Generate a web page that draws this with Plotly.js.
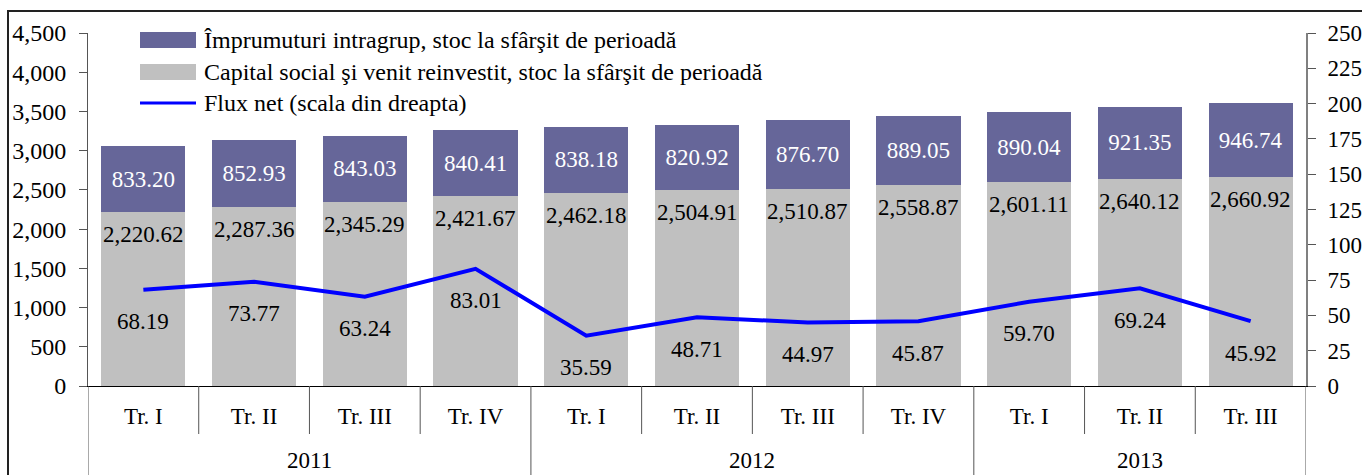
<!DOCTYPE html>
<html><head><meta charset="utf-8">
<script src="https://cdn.plot.ly/plotly-3.0.1.min.js"></script>
<style>html,body{margin:0;padding:0;background:#fff}#chart{width:1362px;height:475px}</style>
</head><body><div id="chart"></div>
<script>
const years = ["2011","2011","2011","2011","2012","2012","2012","2012","2013","2013","2013"];
const quarters = ["Tr. I","Tr. II","Tr. III","Tr. IV","Tr. I","Tr. II","Tr. III","Tr. IV","Tr. I","Tr. II","Tr. III"];
const capitalSocial = [2220.62,2287.36,2345.29,2421.67,2462.18,2504.91,2510.87,2558.87,2601.11,2640.12,2660.92];
const imprumuturi = [833.20,852.93,843.03,840.41,838.18,820.92,876.70,889.05,890.04,921.35,946.74];
const fluxNet = [68.19,73.77,63.24,83.01,35.59,48.71,44.97,45.87,59.70,69.24,45.92];
const seriesNames = [
  "Împrumuturi intragrup, stoc la sfârşit de perioadă",
  "Capital social şi venit reinvestit, stoc la sfârşit de perioadă",
  "Flux net (scala din dreapta)"
];

const FONT = '"Liberation Serif", "Times New Roman", serif';
const keys = years.map((y,i)=>y+" "+quarters[i]);

// pixel geometry helpers for decorations (legend / frame / dividers)
const W=1362, H=475, ML=88, MR=56, MT=33, MB=89;
const PW=W-ML-MR, PH=H-MT-MB;
const px = p => (p-ML)/PW;
const py = p => (H-MB-p)/PH;

const traces = [
  {type:"bar", name:seriesNames[1], x:keys, y:capitalSocial, marker:{color:"#C0C0C0"},
   hoverinfo:"skip", showlegend:false},
  {type:"bar", name:seriesNames[0], x:keys, y:imprumuturi, marker:{color:"#666699"},
   texttemplate:"%{y:.2f}", textposition:"inside", insidetextanchor:"middle",
   constraintext:"none", textangle:0, textfont:{family:FONT,size:23,color:"#fff"},
   hoverinfo:"skip", showlegend:false},
  {type:"scatter", mode:"lines", name:seriesNames[2], x:keys, y:fluxNet, yaxis:"y2",
   line:{color:"#0000FF",width:4}, hoverinfo:"skip", showlegend:false}
];

const annotations = [];
capitalSocial.forEach((v,i)=>annotations.push({
  x:keys[i], y:v, xref:"x", yref:"y", text:v.toLocaleString("en-US",{minimumFractionDigits:2,maximumFractionDigits:2}),
  showarrow:false, yanchor:"top", yshift:-8, font:{family:FONT,size:23,color:"#000"}
}));
fluxNet.forEach((v,i)=>annotations.push({
  x:keys[i], y:v, xref:"x", yref:"y2", text:v.toFixed(2), showarrow:false, yanchor:"middle", yshift:-32,
  font:{family:FONT,size:23,color:"#000"}
}));

// year labels
const yearNames = [...new Set(years)];
yearNames.forEach(yr=>{
  const idx = years.map((y,i)=>y===yr?i:-1).filter(i=>i>=0);
  annotations.push({x:(idx[0]+idx[idx.length-1])/2, y:py(460), xref:"x", yref:"paper", text:yr,
    showarrow:false, yanchor:"middle", font:{family:FONT,size:23,color:"#000"}});
});

const shapes = [];
// dividers between quarters and between years
for (let i=0;i<=keys.length;i++){
  const isYear = (i===0 || i===keys.length || years[i]!==years[i-1]);
  shapes.push({type:"line", xref:"x", yref:"paper", x0:i-0.5, x1:i-0.5, y0:0, y1:isYear?py(480):py(434),
    line:{color:"#555",width:1}});
}
// frame
shapes.push({type:"rect", xref:"paper", yref:"paper", x0:px(8), x1:px(1400), y0:py(520), y1:py(11),
  line:{color:"#222",width:2}, fillcolor:"rgba(0,0,0,0)"});

// manual legend
const legRows = [40, 72, 103];
shapes.push({type:"rect", xref:"paper", yref:"paper", x0:px(140), x1:px(196), y0:py(legRows[0]+8), y1:py(legRows[0]-8),
  line:{width:0}, fillcolor:"#666699"});
shapes.push({type:"rect", xref:"paper", yref:"paper", x0:px(140), x1:px(196), y0:py(legRows[1]+8), y1:py(legRows[1]-8),
  line:{width:0}, fillcolor:"#C0C0C0"});
shapes.push({type:"line", xref:"paper", yref:"paper", x0:px(140), x1:px(196), y0:py(legRows[2]), y1:py(legRows[2]),
  line:{color:"#0000FF",width:3}});
seriesNames.forEach((n,i)=>annotations.push({x:px(202), y:py(legRows[i]), xref:"paper", yref:"paper",
  text:n, showarrow:false, xanchor:"left", yanchor:"middle", font:{family:FONT,size:24,color:"#000"}}));

const layout = {
  width:W, height:H,
  margin:{l:ML, r:MR, t:MT, b:MB},
  paper_bgcolor:"#fff", plot_bgcolor:"#fff",
  font:{family:FONT, size:23, color:"#000"},
  barmode:"stack", bargap:0.24,
  showlegend:false,
  xaxis:{type:"category", tickvals:keys, ticktext:quarters, showline:true, linecolor:"#000", linewidth:1,
    ticks:"", ticklabelstandoff:9, tickfont:{family:FONT,size:23,color:"#000"},
    showgrid:false, zeroline:false, range:[-0.5, keys.length-0.5]},
  yaxis:{range:[0,4500], dtick:500, tickformat:",", showline:true, linecolor:"#555", linewidth:1,
    ticks:"outside", ticklen:8, tickcolor:"#555", showgrid:false, zeroline:false, ticklabelstandoff:8,
    tickfont:{family:FONT,size:24,color:"#000"}},
  yaxis2:{range:[0,250], dtick:25, overlaying:"y", side:"right", showline:true, linecolor:"#808080", linewidth:2,
    ticks:"outside", ticklen:8, tickcolor:"#555", showgrid:false, zeroline:false, ticklabelstandoff:7,
    tickfont:{family:FONT,size:23,color:"#000"}},
  annotations:annotations,
  shapes:shapes
};

Plotly.newPlot("chart", traces, layout, {displayModeBar:false, staticPlot:true});
</script></body></html>
